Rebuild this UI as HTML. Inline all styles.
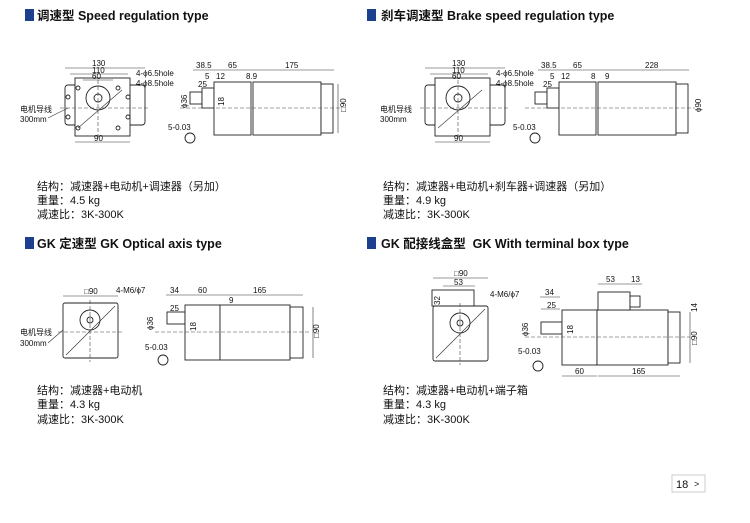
<!DOCTYPE html>
<html><head><meta charset="utf-8"><style>
body{margin:0;background:#fff;width:750px;height:523px;overflow:hidden}
svg{display:block}
text{font-family:"Liberation Sans","Noto Sans CJK SC",sans-serif;fill:#111}
.t{font-weight:bold;font-size:12.5px}
.b{font-size:11px}
.s{font-size:8px}
.l{stroke:#222;stroke-width:0.9;fill:none}
.f{stroke:#222;stroke-width:0.9;fill:#fff}
.d{stroke:#333;stroke-width:0.6;fill:none}
.c{stroke:#444;stroke-width:0.6;fill:none;stroke-dasharray:4 2}
</style></head><body>
<svg width="750" height="523" viewBox="0 0 750 523">
<rect x="25" y="9" width="9" height="12" fill="#1c3f8e"/>
<text class="t" x="37" y="20">调速型 Speed regulation type</text>
<rect x="367" y="9" width="9" height="12" fill="#1c3f8e"/>
<text class="t" x="381" y="20">刹车调速型 Brake speed regulation type</text>
<rect x="25" y="237" width="9" height="12" fill="#1c3f8e"/>
<text class="t" x="37" y="248">GK 定速型 GK Optical axis type</text>
<rect x="367" y="237" width="9" height="12" fill="#1c3f8e"/>
<text class="t" x="381" y="248">GK 配接线盒型&#160; GK With terminal box type</text>

<g>
<rect class="f" x="65" y="85" width="80" height="40" rx="3"/>
<rect class="f" x="75" y="78" width="55" height="58"/>
<circle class="l" cx="98" cy="98" r="12"/><circle class="l" cx="98" cy="98" r="4"/>
<circle class="l" cx="68" cy="97" r="2"/><circle class="l" cx="68" cy="117" r="2"/><circle class="l" cx="128" cy="97" r="2"/><circle class="l" cx="128" cy="117" r="2"/>
<circle class="l" cx="78" cy="88" r="2"/><circle class="l" cx="78" cy="128" r="2"/><circle class="l" cx="118" cy="88" r="2"/><circle class="l" cx="118" cy="128" r="2"/>
<line class="d" x1="78" y1="128" x2="122" y2="90"/>
<line class="c" x1="60" y1="108" x2="150" y2="108"/><line class="c" x1="98" y1="80" x2="98" y2="140"/>
<line class="d" x1="65" y1="68" x2="145" y2="68"/><text class="s" x="92" y="66">130</text>
<line class="d" x1="70" y1="74" x2="128" y2="74"/><text class="s" x="92" y="73">110</text>
<line class="d" x1="83" y1="80" x2="113" y2="80"/><text class="s" x="92" y="79">60</text>
<line class="d" x1="75" y1="142" x2="130" y2="142"/><text class="s" x="94" y="141">90</text>
<text class="s" x="136" y="76">4-ϕ6.5hole</text><text class="s" x="136" y="86">4-ϕ8.5hole</text>
<text class="s" x="20" y="112">电机导线</text><text class="s" x="20" y="122">300mm</text>
<line class="d" x1="48" y1="118" x2="68" y2="108"/>
</g>
<g>
<rect class="f" x="190" y="92" width="12" height="12"/>
<rect class="f" x="202" y="88" width="12" height="20"/>
<rect class="f" x="214" y="82" width="37" height="53"/>
<rect class="f" x="253" y="82" width="68" height="53"/>
<rect class="f" x="321" y="84" width="12" height="49"/>
<line class="c" x1="180" y1="108" x2="340" y2="108"/>
<line class="d" x1="193" y1="70" x2="334" y2="70"/>
<text class="s" x="196" y="68">38.5</text><text class="s" x="228" y="68">65</text><text class="s" x="285" y="68">175</text>
<text class="s" x="205" y="79">5</text><text class="s" x="216" y="79">12</text><text class="s" x="246" y="79">8.9</text>
<text class="s" x="198" y="87">25</text>
<line class="d" x1="338" y1="84" x2="338" y2="133"/>
<text class="s" transform="translate(346,112) rotate(-90)">□90</text>
<text class="s" transform="translate(187,108) rotate(-90)">ϕ36</text>
<text class="s" transform="translate(224,106) rotate(-90)">18</text>
<text class="s" x="168" y="130">5-0.03</text>
<circle class="l" cx="190" cy="138" r="5"/>
</g>

<g transform="translate(360,0)">
<rect class="f" x="65" y="85" width="80" height="40" rx="3"/>
<rect class="f" x="75" y="78" width="55" height="58"/>
<circle class="l" cx="98" cy="98" r="12"/><circle class="l" cx="98" cy="98" r="4"/>
<line class="d" x1="78" y1="128" x2="122" y2="90"/>
<line class="c" x1="60" y1="108" x2="150" y2="108"/><line class="c" x1="98" y1="80" x2="98" y2="140"/>
<line class="d" x1="65" y1="68" x2="145" y2="68"/><text class="s" x="92" y="66">130</text>
<line class="d" x1="70" y1="74" x2="128" y2="74"/><text class="s" x="92" y="73">110</text>
<text class="s" x="92" y="79">60</text>
<line class="d" x1="75" y1="142" x2="130" y2="142"/><text class="s" x="94" y="141">90</text>
<text class="s" x="136" y="76">4-ϕ6.5hole</text><text class="s" x="136" y="86">4-ϕ8.5hole</text>
<text class="s" x="20" y="112">电机导线</text><text class="s" x="20" y="122">300mm</text>
</g>
<g transform="translate(345,0)">
<rect class="f" x="190" y="92" width="12" height="12"/>
<rect class="f" x="202" y="88" width="12" height="20"/>
<rect class="f" x="214" y="82" width="37" height="53"/>
<rect class="f" x="253" y="82" width="78" height="53"/>
<rect class="f" x="331" y="84" width="12" height="49"/>
<line class="c" x1="180" y1="108" x2="350" y2="108"/>
<line class="d" x1="193" y1="70" x2="344" y2="70"/>
<text class="s" x="196" y="68">38.5</text><text class="s" x="228" y="68">65</text><text class="s" x="300" y="68">228</text>
<text class="s" x="205" y="79">5</text><text class="s" x="216" y="79">12</text><text class="s" x="246" y="79">8</text><text class="s" x="260" y="79">9</text>
<text class="s" x="198" y="87">25</text>
<text class="s" transform="translate(356,112) rotate(-90)">ϕ90</text>
<text class="s" x="168" y="130">5-0.03</text>
<circle class="l" cx="190" cy="138" r="5"/>
</g>

<text class="b" x="37" y="190">结构：减速器+电动机+调速器（另加）</text>
<text class="b" x="37" y="204">重量：4.5 kg</text>
<text class="b" x="37" y="218">减速比：3K-300K</text>
<text class="b" x="383" y="190">结构：减速器+电动机+刹车器+调速器（另加）</text>
<text class="b" x="383" y="204">重量：4.9 kg</text>
<text class="b" x="383" y="218">减速比：3K-300K</text>
<text class="b" x="37" y="394">结构：减速器+电动机</text>
<text class="b" x="37" y="408">重量：4.3 kg</text>
<text class="b" x="37" y="423">减速比：3K-300K</text>
<text class="b" x="383" y="394">结构：减速器+电动机+端子箱</text>
<text class="b" x="383" y="408">重量：4.3 kg</text>
<text class="b" x="383" y="423">减速比：3K-300K</text>

<g>
<rect class="f" x="63" y="303" width="55" height="55" rx="2"/>
<circle class="l" cx="90" cy="320" r="10"/><circle class="l" cx="90" cy="320" r="3"/>
<line class="d" x1="66" y1="355" x2="115" y2="306"/>
<line class="c" x1="58" y1="332" x2="122" y2="332"/><line class="c" x1="90" y1="300" x2="90" y2="362"/>
<line class="d" x1="63" y1="296" x2="118" y2="296"/><text class="s" x="84" y="294">□90</text>
<text class="s" x="116" y="293">4-M6/ϕ7</text>
<text class="s" x="20" y="335">电机导线</text><text class="s" x="20" y="346">300mm</text>
<line class="d" x1="48" y1="343" x2="63" y2="330"/>
<rect class="f" x="167" y="312" width="18" height="12"/>
<rect class="f" x="185" y="305" width="35" height="55"/>
<rect class="f" x="220" y="305" width="70" height="55"/>
<rect class="f" x="290" y="307" width="13" height="51"/>
<line class="c" x1="155" y1="332" x2="310" y2="332"/>
<line class="d" x1="166" y1="295" x2="303" y2="295"/>
<text class="s" x="170" y="293">34</text><text class="s" x="198" y="293">60</text><text class="s" x="253" y="293">165</text>
<text class="s" x="229" y="303">9</text><text class="s" x="170" y="311">25</text>
<line class="d" x1="313" y1="307" x2="313" y2="358"/>
<text class="s" transform="translate(319,338) rotate(-90)">□90</text>
<text class="s" transform="translate(153,330) rotate(-90)">ϕ36</text>
<text class="s" transform="translate(196,331) rotate(-90)">18</text>
<text class="s" x="145" y="350">5-0.03</text>
<circle class="l" cx="163" cy="360" r="5"/>
</g>

<g>
<rect class="f" x="432" y="290" width="42" height="16"/>
<rect class="f" x="433" y="306" width="55" height="55" rx="2"/>
<circle class="l" cx="460" cy="323" r="10"/><circle class="l" cx="460" cy="323" r="3"/>
<line class="d" x1="436" y1="358" x2="485" y2="309"/>
<line class="c" x1="460" y1="303" x2="460" y2="365"/>
<line class="d" x1="433" y1="278" x2="488" y2="278"/><text class="s" x="454" y="276">□90</text>
<line class="d" x1="443" y1="286" x2="475" y2="286"/><text class="s" x="454" y="285">53</text>
<text class="s" x="490" y="297">4-M6/ϕ7</text>
<text class="s" transform="translate(440,305) rotate(-90)">32</text>
<rect class="f" x="541" y="322" width="21" height="12"/>
<rect class="f" x="562" y="310" width="35" height="55"/>
<rect class="f" x="597" y="310" width="71" height="55"/>
<rect class="f" x="668" y="312" width="12" height="51"/>
<rect class="f" x="598" y="292" width="32" height="18"/>
<rect class="f" x="630" y="296" width="10" height="11"/>
<line class="c" x1="525" y1="337" x2="690" y2="337"/>
<line class="d" x1="598" y1="284" x2="642" y2="284"/><text class="s" x="606" y="282">53</text><text class="s" x="631" y="282">13</text>
<line class="d" x1="540" y1="297" x2="560" y2="297"/><text class="s" x="545" y="295">34</text>
<line class="d" x1="541" y1="309" x2="560" y2="309"/><text class="s" x="547" y="308">25</text>
<line class="d" x1="562" y1="376" x2="597" y2="376"/><text class="s" x="575" y="374">60</text>
<line class="d" x1="598" y1="376" x2="680" y2="376"/><text class="s" x="632" y="374">165</text>
<line class="d" x1="690" y1="312" x2="690" y2="363"/>
<text class="s" transform="translate(697,345) rotate(-90)">□90</text>
<text class="s" transform="translate(697,312) rotate(-90)">14</text>
<text class="s" transform="translate(528,336) rotate(-90)">ϕ36</text>
<text class="s" transform="translate(573,334) rotate(-90)">18</text>
<text class="s" x="518" y="354">5-0.03</text>
<circle class="l" cx="538" cy="366" r="5"/>
</g>

<rect x="672" y="475" width="33" height="17" fill="#fff" stroke="#ccc"/>
<text x="676" y="488" style="font-size:11px">18</text>
<text x="694" y="487" style="font-size:9px">&gt;</text>
</svg>
</body></html>
